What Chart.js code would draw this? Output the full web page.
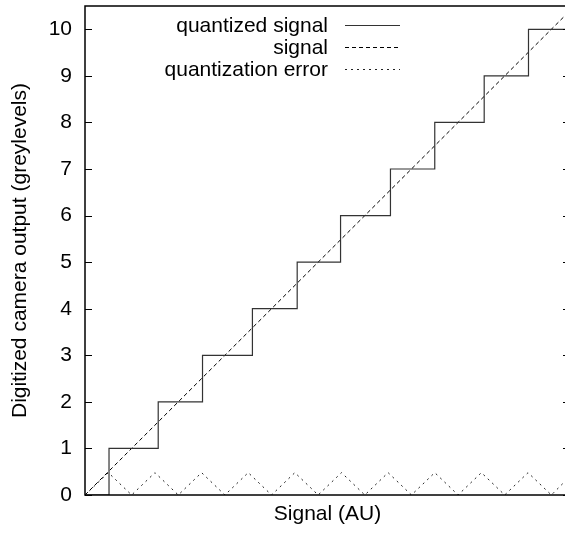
<!DOCTYPE html>
<html><head><meta charset="utf-8">
<script src="https://cdn.jsdelivr.net/npm/chart.js@4"></script>
<style>html,body{margin:0;padding:0;overflow:hidden;background:#fff}canvas{display:block}</style>
</head><body>
<canvas id="c" width="575" height="534"></canvas>
<script>
// quantized signal: x where each level begins, and the level
const quantEdgeX = [0,0.515,1.57,2.52,3.59,4.55,5.48,6.55,7.50,8.56,9.51,10.4];
const quantLevel = [0,1,2,3,4,5,6,7,8,9,10,10];
const signalX = [0,10.4];
const signalY = [0,10.4];
const errorX = [0,0.5,1,1.5,2,2.5,3,3.5,4,4.5,5,5.5,6,6.5,7,7.5,8,8.5,9,9.5,10,10.4];
const errorY = [0,0.48,0,0.48,0,0.48,0,0.48,0,0.48,0,0.48,0,0.48,0,0.48,0,0.48,0,0.48,0,0.4];
const yTicks = [0,1,2,3,4,5,6,7,8,9,10];
const seriesLabels = ['quantized signal','signal','quantization error'];
const xTitle = 'Signal (AU)';
const yTitle = 'Digitized camera output (greylevels)';

const FONT = '"Liberation Sans", Arial, Helvetica, sans-serif';
const FS = 21;
const pts = (xs, ys) => xs.map((x, i) => ({x, y: ys[i]}));

const framePlugin = {
  id: 'frame',
  afterDraw(chart) {
    const {ctx, chartArea: a, scales} = chart;
    ctx.save();
    ctx.strokeStyle = '#000';
    ctx.lineWidth = 1.5;
    ctx.strokeRect(a.left, a.top, a.right - a.left, a.bottom - a.top);
    ctx.lineWidth = 1;
    ctx.beginPath();
    scales.y.ticks.forEach(t => {
      const py = Math.round(scales.y.getPixelForValue(t.value)) + 0.5;
      ctx.moveTo(a.left, py); ctx.lineTo(a.left + 7, py);
      ctx.moveTo(a.right, py); ctx.lineTo(a.right - 7, py);
    });
    ctx.stroke();
    // gnuplot-style key
    ctx.font = FS + 'px ' + FONT;
    ctx.fillStyle = '#000';
    ctx.textAlign = 'right';
    ctx.textBaseline = 'middle';
    const textRight = 328, lineL = 345, lineR = 400, rowY = [25, 47, 69];
    chart.data.datasets.forEach((ds, i) => {
      ctx.fillText(ds.label, textRight, rowY[i] + 1);
      ctx.strokeStyle = ds.borderColor;
      ctx.lineWidth = ds.borderWidth;
      ctx.setLineDash(ds.borderDash || []);
      ctx.beginPath();
      ctx.moveTo(lineL, rowY[i] + 0.5); ctx.lineTo(lineR, rowY[i] + 0.5);
      ctx.stroke();
    });
    ctx.restore();
  }
};

new Chart(document.getElementById('c'), {
  type: 'line',
  data: {
    datasets: [
      {label: seriesLabels[0], data: pts(quantEdgeX, quantLevel), stepped: 'before', borderColor: '#333', borderWidth: 1.2, pointRadius: 0, fill: false},
      {label: seriesLabels[1], data: pts(signalX, signalY), borderColor: '#000', borderWidth: 1, borderDash: [4, 3], pointRadius: 0, fill: false},
      {label: seriesLabels[2], data: pts(errorX, errorY), borderColor: '#222', borderWidth: 1, borderDash: [2, 4], pointRadius: 0, fill: false}
    ]
  },
  options: {
    responsive: false,
    animation: false,
    layout: {padding: {left: 0, right: 5, top: 6, bottom: 0}},
    plugins: {legend: {display: false}, tooltip: {enabled: false}},
    scales: {
      x: {
        type: 'linear', min: 0, max: 10.4,
        grid: {display: false, drawTicks: false},
        border: {display: false},
        ticks: {display: false},
        title: {display: true, text: xTitle, color: '#000', font: {family: FONT, size: FS, lineHeight: 1.2}, padding: {top: 0, bottom: 7}},
        afterFit(s) { s.height = 39; s.paddingLeft = 0; s.paddingRight = 0; }
      },
      y: {
        type: 'linear', min: 0, max: 10.5,
        grid: {display: false, drawTicks: false},
        border: {display: false},
        ticks: {color: '#000', padding: 13, font: {family: FONT, size: FS}},
        afterBuildTicks(s) { s.ticks = yTicks.map(v => ({value: v})); },
        title: {display: true, text: yTitle, color: '#000', font: {family: FONT, size: FS, lineHeight: 1.2}, padding: {top: 8, bottom: 0}},
        afterFit(s) { s.width = 85; s.paddingTop = 0; s.paddingBottom = 0; }
      }
    }
  },
  plugins: [framePlugin]
});
</script>
</body></html>
